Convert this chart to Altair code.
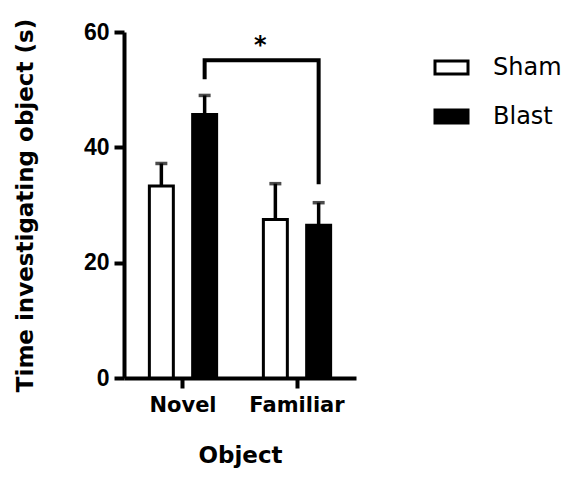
import altair as alt
import pandas as pd

# Mean time spent investigating each object, with SEM
objects = ["Novel", "Novel", "Familiar", "Familiar"]
groups = ["Sham", "Blast", "Sham", "Blast"]
means = [33.3, 45.7, 27.5, 26.5]
sems = [3.9, 3.3, 6.2, 3.9]

# Significance bracket between the two Blast bars
bracket_objects = ["Novel", "Novel", "Familiar", "Familiar"]
bracket_heights = [51.8, 55.1, 55.1, 33.6]
star_height = 57.6

object_order = ["Novel", "Familiar"]
group_order = ["Sham", "Blast"]

bars_df = pd.DataFrame({"object": objects, "group": groups, "mean": means, "sem": sems})
bars_df["upper"] = bars_df["mean"] + bars_df["sem"]

bracket_df = pd.DataFrame({
    "object": bracket_objects,
    "group": ["Blast"] * len(bracket_objects),
    "y": bracket_heights,
    "step": list(range(len(bracket_objects))),
})
star_df = pd.DataFrame({"object": ["Familiar"], "group": ["Sham"], "y": [star_height], "label": ["*"]})

x_enc = alt.X(
    "object:N",
    sort=object_order,
    scale=alt.Scale(paddingInner=0, paddingOuter=0.0175),
    axis=alt.Axis(
        title="Object",
        labelAngle=0,
        labelFont="DejaVu Sans",
        labelFontSize=21,
        labelFontWeight="bold",
        labelColor="black",
        labelPadding=6,
        titleFont="DejaVu Sans",
        titleFontSize=23,
        titleFontWeight="bold",
        titleColor="black",
        titlePadding=29,
        domainColor="black",
        domainWidth=4,
        tickColor="black",
        tickWidth=4,
        tickSize=10,
        grid=False,
    ),
)
xoff_enc = alt.XOffset("group:N", sort=group_order, scale=alt.Scale(paddingInner=0.446, paddingOuter=0.54))

y_scale = alt.Scale(domain=[0, 60], nice=False, zero=True)
y_axis = alt.Axis(
    title="Time investigating object (s)",
    values=[0, 20, 40, 60],
    labelFont="Liberation Sans",
    labelFontSize=23,
    labelFontWeight="bold",
    labelColor="black",
    labelPadding=5,
    titleFont="DejaVu Sans",
    titleFontSize=23,
    titleFontWeight="bold",
    titleColor="black",
    titlePadding=46,
    domainColor="black",
    domainWidth=4,
    tickColor="black",
    tickWidth=4,
    tickSize=10,
    grid=False,
)

bars = alt.Chart(bars_df).mark_bar(stroke="black", strokeWidth=3).encode(
    x=x_enc,
    xOffset=xoff_enc,
    y=alt.Y("mean:Q", scale=y_scale, axis=y_axis),
    fill=alt.Fill(
        "group:N",
        sort=group_order,
        scale=alt.Scale(domain=group_order, range=["white", "black"]),
        legend=alt.Legend(title=None),
    ),
)

err_rule = alt.Chart(bars_df).mark_rule(color="black", strokeWidth=3.5).encode(
    x=alt.X("object:N", sort=object_order),
    xOffset=alt.XOffset("group:N", sort=group_order),
    y="mean:Q",
    y2="upper:Q",
)

err_cap = alt.Chart(bars_df).mark_tick(color="black", thickness=3.5, size=12, orient="horizontal").encode(
    x=alt.X("object:N", sort=object_order),
    xOffset=alt.XOffset("group:N", sort=group_order),
    y="upper:Q",
)

bracket = alt.Chart(bracket_df).mark_line(color="black", strokeWidth=4, strokeJoin="miter").encode(
    x=alt.X("object:N", sort=object_order),
    xOffset=alt.XOffset("group:N", sort=group_order),
    y="y:Q",
    order="step:Q",
)

star = alt.Chart(star_df).mark_text(
    font="DejaVu Sans", fontSize=24, fontWeight="bold", color="black", dx=-15, baseline="middle"
).encode(
    x=alt.X("object:N", sort=object_order),
    xOffset=alt.XOffset("group:N", sort=group_order),
    y="y:Q",
    text="label:N",
)

chart = (
    alt.layer(bars, err_rule, err_cap, bracket, star)
    .properties(
        width=232,
        height=346,
        autosize=alt.AutoSizeParams(type="none"),
        padding={"left": 124, "top": 32, "right": 215, "bottom": 103},
        background="white",
    )
    .configure_view(stroke=None)
    .configure_legend(
        orient="none",
        legendX=308,
        legendY=16,
        padding=0,
        symbolType="M-0.917,-0.36L0.917,-0.36L0.917,0.36L-0.917,0.36Z",
        symbolSize=1296,
        symbolStrokeColor="black",
        symbolStrokeWidth=3,
        labelFont="DejaVu Sans",
        labelFontSize=24,
        labelColor="black",
        labelOffset=22,
        rowPadding=17,
    )
)

chart.save("out.html", embed_options={"renderer": "svg", "actions": False})
